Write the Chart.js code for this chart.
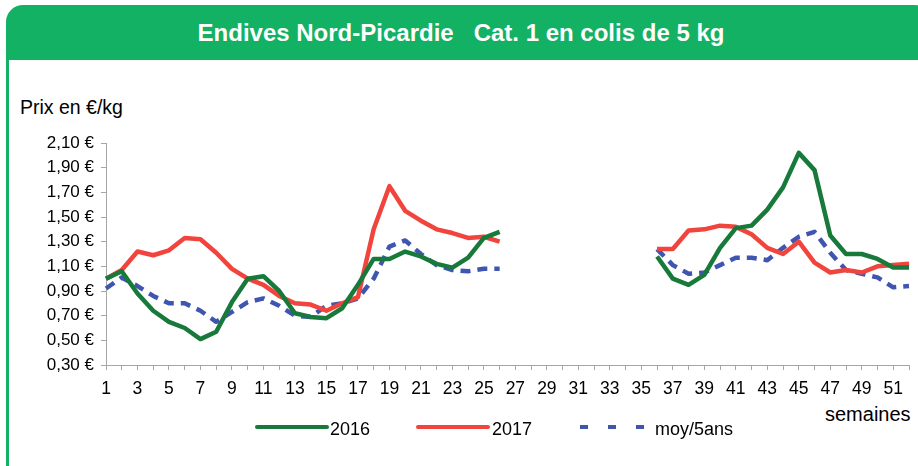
<!DOCTYPE html>
<html>
<head>
<meta charset="utf-8">
<script src="https://cdn.jsdelivr.net/npm/chart.js@4/dist/chart.umd.min.js"></script>
<style>
  html, body { margin: 0; padding: 0; background: #fff; overflow: hidden; }
  body { width: 918px; height: 466px; position: relative; font-family: 'Liberation Sans', Arial, sans-serif; }
  #bar { position: absolute; left: 6px; top: 5px; width: 926px; height: 55px; background: #12b163;
         border-radius: 17px 17px 0 0; color: #fff; font-weight: bold; font-size: 24px;
         line-height: 56px; text-align: center; white-space: pre; }
  #bar span { position: absolute; left: 455px; transform: translateX(-50%); top: 0; }
  #leftline { position: absolute; left: 6px; top: 40px; width: 3px; height: 440px; background: #12b163; }
  .lbl { position: absolute; color: #000; white-space: nowrap; line-height: 1; }
  canvas { position: absolute; left: 0; top: 0; }
</style>
</head>
<body>
<div id="bar"><span>Endives Nord-Picardie   Cat. 1 en colis de 5 kg</span></div>
<div id="leftline"></div>
<div class="lbl" style="left:20px; top:98px; font-size:19.5px;">Prix en €/kg</div>
<div class="lbl" style="left:825px; top:404px; font-size:20px;">semaines</div>
<canvas id="prixChart" width="918" height="466"></canvas>
<script>
// semaines 1 à 52
const weeks = [1, 2, 3, 4, 5, 6, 7, 8, 9, 10, 11, 12, 13, 14, 15, 16, 17, 18, 19, 20, 21, 22, 23, 24, 25, 26,
  27, 28, 29, 30, 31, 32, 33, 34, 35, 36, 37, 38, 39, 40, 41, 42, 43, 44, 45, 46, 47, 48, 49, 50, 51, 52];

// prix en €/kg (null = pas de cotation, semaines 27 à 35)
const prix2016 = [1.00, 1.06, 0.88, 0.74, 0.65, 0.60, 0.51, 0.57, 0.81, 1.00, 1.02, 0.90, 0.72, 0.69, 0.68, 0.76,
  0.95, 1.16, 1.16, 1.22, 1.18, 1.12, 1.09, 1.17, 1.33, 1.38,
  null, null, null, null, null, null, null, null, null,
  1.18, 1.00, 0.95, 1.03, 1.25, 1.41, 1.43, 1.56, 1.74, 2.02, 1.88, 1.35, 1.20, 1.20, 1.16, 1.09, 1.09];

const prix2017 = [1.00, 1.07, 1.22, 1.19, 1.23, 1.33, 1.32, 1.21, 1.08, 1.00, 0.95, 0.86, 0.80, 0.79, 0.74, 0.80,
  0.85, 1.40, 1.75, 1.55, 1.47, 1.40, 1.37, 1.33, 1.34, 1.30,
  null, null, null, null, null, null, null, null, null,
  1.24, 1.24, 1.39, 1.40, 1.43, 1.42, 1.36, 1.25, 1.20, 1.30, 1.13, 1.05, 1.07, 1.05, 1.10, 1.11, 1.12];

const moy5ans = [0.92, 1.01, 0.94, 0.86, 0.80, 0.80, 0.74, 0.65, 0.73, 0.81, 0.84, 0.78, 0.70, 0.69, 0.78, 0.80,
  0.84, 1.00, 1.26, 1.31, 1.20, 1.11, 1.07, 1.06, 1.08, 1.08,
  null, null, null, null, null, null, null, null, null,
  1.24, 1.11, 1.04, 1.05, 1.11, 1.17, 1.17, 1.15, 1.25, 1.34, 1.38, 1.21, 1.07, 1.04, 1.01, 0.93, 0.94];

const seriesNames = ['2016', '2017', 'moy/5ans'];

const FONT = "'Liberation Sans', Arial, sans-serif";
const AXIS_GREY = '#a6a6a6';

// légende dessinée à la main, comme sur l'original
const legendPlugin = {
    id: 'customLegend',
    afterDraw(chart) {
        const ctx = chart.ctx;
        const slots = [
            { x0: 257, x1: 327, tx: 330, dash: [] },
            { x0: 418, x1: 488, tx: 492, dash: [] },
            { x0: 580, x1: 644, tx: 655, dash: [8, 20] }
        ];
        const y = 427;
        ctx.save();
        chart.data.datasets.forEach((ds, i) => {
            const s = slots[i];
            ctx.beginPath();
            ctx.setLineDash(s.dash);
            ctx.lineCap = s.dash.length ? 'butt' : 'round';
            ctx.strokeStyle = ds.borderColor;
            ctx.lineWidth = 4;
            ctx.moveTo(s.x0, y);
            ctx.lineTo(s.x1, y);
            ctx.stroke();
            ctx.setLineDash([]);
            ctx.fillStyle = '#000';
            ctx.font = '18px ' + FONT;
            ctx.textBaseline = 'middle';
            ctx.textAlign = 'left';
            ctx.fillText(ds.label, s.tx, y + 3);
        });
        ctx.restore();
    }
};

new Chart(document.getElementById('prixChart'), {
    type: 'line',
    data: {
        labels: weeks,
        datasets: [
            { label: seriesNames[0], data: prix2016, borderColor: '#187a3a', borderWidth: 4.5 },
            { label: seriesNames[1], data: prix2017, borderColor: '#f0443d', borderWidth: 4.5 },
            { label: seriesNames[2], data: moy5ans, borderColor: '#3f55b0', borderWidth: 4.5, borderDash: [10, 7] }
        ]
    },
    options: {
        responsive: false,
        animation: false,
        spanGaps: false,
        elements: { point: { radius: 0 }, line: { tension: 0, borderJoinStyle: 'round' } },
        layout: { padding: { left: 0, top: 143, right: 9, bottom: 0 } },
        plugins: { legend: { display: false }, tooltip: { enabled: false } },
        scales: {
            x: {
                offset: false,
                grid: { drawOnChartArea: false, drawTicks: true, tickLength: 5, color: AXIS_GREY },
                border: { color: AXIS_GREY },
                ticks: {
                    autoSkip: false, maxRotation: 0, padding: 9, color: '#000',
                    font: { family: FONT, size: 17.5 },
                    callback: (val, idx) => weeks[idx] % 2 === 1 ? String(weeks[idx]) : ''
                },
                afterFit: (scale) => { scale.height = 101; }
            },
            y: {
                min: 0.3,
                max: 2.1,
                grid: { drawOnChartArea: false, drawTicks: true, tickLength: 5, color: AXIS_GREY },
                border: { color: AXIS_GREY },
                ticks: {
                    stepSize: 0.2, padding: 7, color: '#000',
                    font: { family: FONT, size: 17 },
                    callback: (v) => v.toFixed(2).replace('.', ',') + ' €'
                },
                afterFit: (scale) => { scale.width = 106; }
            }
        }
    },
    plugins: [legendPlugin]
});
</script>
</body>
</html>
